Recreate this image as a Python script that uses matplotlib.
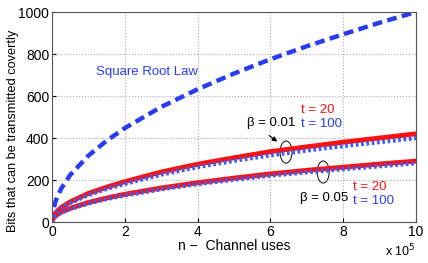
import numpy as np
from matplotlib import pyplot as plt
from matplotlib.patches import Ellipse

# n in units of 1e5 channel uses
n = [0, 0.02, 0.1, 0.25, 0.5, 1, 1.5, 2, 3, 4, 5, 6, 7, 8, 9, 10]
sqrt_law = [0, 45, 100, 158, 224, 316, 387, 447, 548, 632, 707, 775, 837, 894, 949, 1000]
b001_t20 = [0, 20, 44, 69, 96, 136, 166, 192, 238, 275, 306, 335, 358, 380, 400, 420]
b001_t100 = [0, 18, 41, 65, 91, 129, 158, 182, 226, 262, 292, 318, 341, 362, 381, 400]
b005_t20 = [0, 14, 30, 47, 65, 93, 114, 132, 162, 187, 209, 229, 246, 261, 276, 290]
b005_t100 = [0, 13, 29, 45, 62, 89, 110, 127, 156, 181, 202, 221, 237, 252, 266, 280]

plt.rcParams['font.family'] = ['Liberation Sans', 'DejaVu Sans']
fig = plt.figure(figsize=(4.28, 2.63), dpi=100)
ax = fig.add_axes([52/428, 1-222/263, (416-52)/428, (222-12)/263])

blue = '#2a3cf0'
red = '#ff1010'
ax.plot(n, sqrt_law, color=blue, linestyle=(0, (2.2, 1.2)), linewidth=3.2)
ax.plot(n, b001_t20, color=red, linewidth=3.5)
ax.plot(n, b001_t100, color='#3a5cf5', linestyle=(0, (0.6, 0.6)), linewidth=3.2)
ax.plot(n, b005_t20, color=red, linewidth=3.5)
ax.plot(n, b005_t100, color='#3a5cf5', linestyle=(0, (0.6, 0.6)), linewidth=3.2)

ax.set_xlim(0, 10)
ax.set_ylim(0, 1000)
ax.set_xticks([0, 2, 4, 6, 8, 10])
ax.set_yticks([0, 200, 400, 600, 800, 1000])
ax.grid(True, linestyle=':', color='#aaaaaa', linewidth=0.8)
ax.tick_params(direction='in', labelsize=10, length=3, pad=2)
for s in ax.spines.values():
    s.set_color('#555555')

ax.set_xlabel('n \u2212  Channel uses', fontsize=10, labelpad=0)
ax.set_ylabel('Bits that can be transmitted covertly', fontsize=9.2)
ax.yaxis.set_label_coords(-0.09, 0.435)
ax.text(1.0, -0.1, 'x 10$^5$', transform=ax.transAxes, ha='right', va='top', fontsize=9)

ax.text(1.22, 714, 'Square Root Law', color=blue, fontsize=9.5, va='center')
ax.text(5.35, 471, '\u03b2 = 0.01', fontsize=9.5, va='center')
ax.text(6.84, 533, 't = 20', color=red, fontsize=9.5, va='center')
ax.text(6.84, 467, 't = 100', color=blue, fontsize=9.5, va='center')
ax.text(6.80, 114, '\u03b2 = 0.05', fontsize=9.5, va='center')
ax.text(8.27, 167, 't = 20', color=red, fontsize=9.5, va='center')
ax.text(8.27, 100, 't = 100', color=blue, fontsize=9.5, va='center')

ax.add_patch(Ellipse((6.43, 333), 0.33, 105, fill=False, edgecolor='#222222', linewidth=0.8))
ax.add_patch(Ellipse((7.45, 238), 0.33, 105, fill=False, edgecolor='#222222', linewidth=0.8))
ax.annotate('', xy=(6.25, 375), xytext=(5.9, 420),
            arrowprops=dict(arrowstyle='-|>', color='black', linewidth=0.8, mutation_scale=7))

fig.savefig('out.png', dpi=100)
